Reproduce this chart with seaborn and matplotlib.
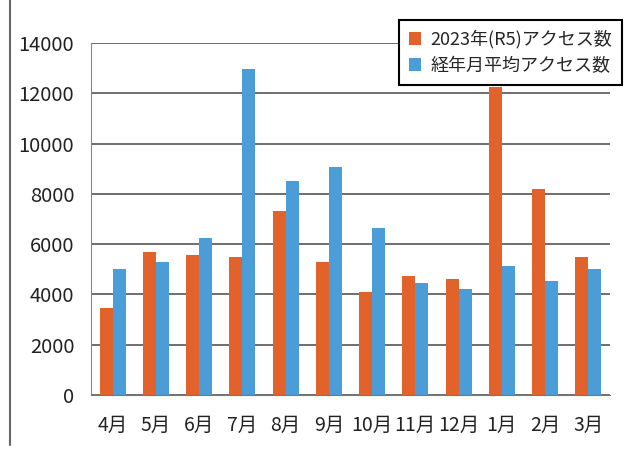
import matplotlib
matplotlib.use("Agg")
import matplotlib.pyplot as plt
import seaborn as sns
import pandas as pd
import numpy as np
from matplotlib.lines import Line2D

months = ["4月", "5月", "6月", "7月", "8月", "9月", "10月", "11月", "12月", "1月", "2月", "3月"]
access_2023 = [3460, 5700, 5570, 5500, 7330, 5300, 4110, 4750, 4610, 12240, 8200, 5500]
access_avg = [5000, 5300, 6230, 12970, 8510, 9080, 6630, 4440, 4220, 5130, 4540, 5010]
series_names = ["2023年(R5)アクセス数", "経年月平均アクセス数"]
yticks = [0, 2000, 4000, 6000, 8000, 10000, 12000, 14000]

df = pd.DataFrame({
    "month": months * 2,
    "value": access_2023 + access_avg,
    "series": [series_names[0]] * 12 + [series_names[1]] * 12,
})

sns.set_style("white")
plt.rcParams["font.family"] = ["Noto Sans CJK JP", "DejaVu Sans"]

fig = plt.figure(figsize=(6.24, 4.5), dpi=100)
ax = fig.add_axes([91 / 624, 1 - 395 / 450, 519 / 624, 352 / 450])

palette = {series_names[0]: "#E2622B", series_names[1]: "#4A9DD6"}
sns.barplot(data=df, x="month", y="value", hue="series", palette=palette,
            width=0.6, ax=ax, saturation=1, legend=True, linewidth=0)

ax.set_ylim(0, 14000)
ax.set_xlim(-0.5, 11.5)
ax.set_yticks(yticks)
ax.set_yticklabels([str(v) for v in yticks], fontsize=14.5, color="#222222")
ax.set_xticks(range(12))
ax.set_xticklabels(months, fontsize=14, color="#222222")
ax.set_xlabel("")
ax.set_ylabel("")
ax.yaxis.grid(True, color="#555555", linewidth=1.2)
ax.set_axisbelow(True)
for s in ["top", "right"]:
    ax.spines[s].set_visible(False)
ax.spines["left"].set_color("#888888")
ax.spines["bottom"].set_color("#777777")
ax.tick_params(axis="y", length=6, color="#555555", pad=6)
ax.tick_params(axis="x", length=0, pad=14)
ax.set_xticks(np.arange(-0.5, 12, 1), minor=True)
ax.tick_params(axis="x", which="minor", length=5, color="#777777", direction="out")

leg = ax.legend(loc="upper right", bbox_to_anchor=(622 / 624, 1 - 20 / 450),
                bbox_transform=fig.transFigure, frameon=True, fontsize=13,
                handlelength=0.7, handleheight=0.7, handletextpad=0.5,
                borderpad=0.55, labelspacing=0.45, fancybox=False,
                borderaxespad=0)
leg.get_frame().set_edgecolor("black")
leg.get_frame().set_linewidth(1.5)
leg.get_frame().set_alpha(1)

fig.add_artist(Line2D([10 / 624, 10 / 624], [1 - 445 / 450, 1.0],
                      transform=fig.transFigure, color="#666666", linewidth=1.5))

fig.savefig("out.png", dpi=100)
